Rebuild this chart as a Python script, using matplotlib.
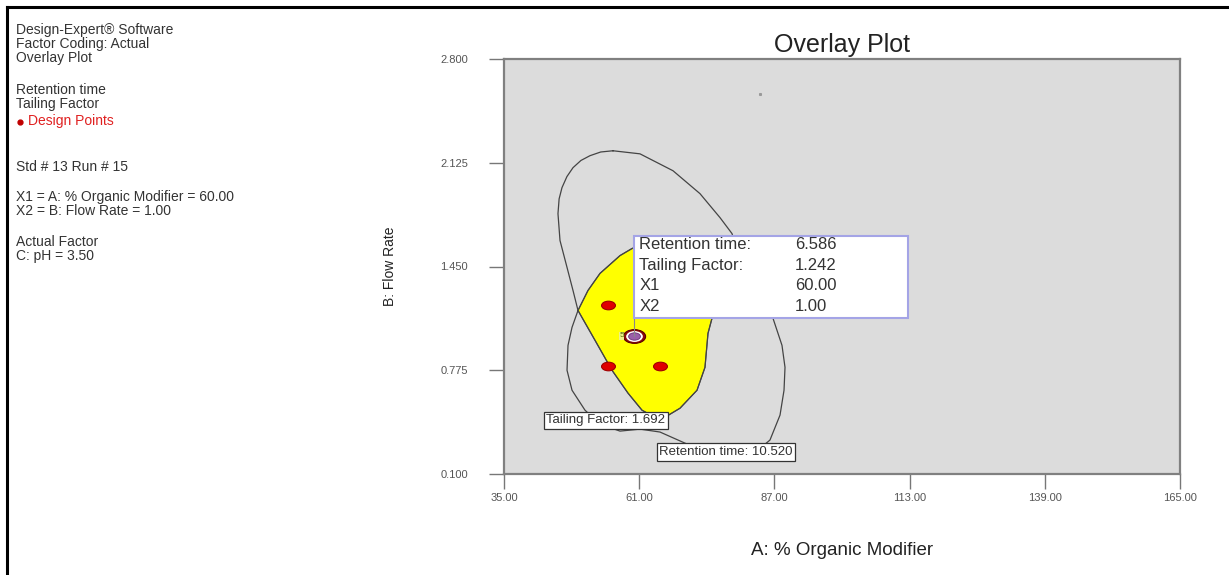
# -*- coding: utf-8 -*-
"""Overlay plot of the retention time / tailing factor design space."""

import matplotlib

matplotlib.use("Agg")
import matplotlib.pyplot as plt
from matplotlib.lines import Line2D
from matplotlib.markers import MarkerStyle
from matplotlib.patches import Polygon, Rectangle
from matplotlib.transforms import Affine2D

plt.rcParams["font.family"] = ["Liberation Sans", "DejaVu Sans"]

# axis ranges and ticks
x_ticks = [35.0, 61.0, 87.0, 113.0, 139.0, 165.0]
y_ticks = [0.100, 0.775, 1.450, 2.125, 2.800]

# design points (A: % organic modifier, B: flow rate)
design_x = [55.0, 55.0, 65.0, 65.0]
design_y = [1.2, 0.8, 0.8, 1.2]
center_x = [60.0]
center_y = [1.0]
center_reps = "5"

# Tailing Factor = 1.692 contour
tailing_x = [55.96, 61.15, 67.5, 72.69, 76.54, 78.85, 79.81, 79.42, 76.92, 75.0,
             74.23, 73.65, 72.12, 68.85, 65.0, 61.54, 58.85, 55.77, 52.5, 49.23,
             48.27, 47.12, 45.77, 45.38, 45.6, 46.15, 47.1, 48.27, 49.8, 51.54,
             53.6, 55.96]
tailing_y = [2.203, 2.183, 2.073, 1.924, 1.768, 1.664, 1.554, 1.424, 1.262, 1.113,
             1.015, 0.794, 0.645, 0.528, 0.450, 0.515, 0.626, 0.775, 0.970, 1.164,
             1.294, 1.444, 1.619, 1.794, 1.890, 1.963, 2.035, 2.093, 2.140, 2.171,
             2.195, 2.203]

# Retention time = 10.520 contour
retention_x = [49.23, 51.15, 53.46, 57.31, 59.62, 65.0, 71.73, 78.46, 83.85, 86.73,
               88.46, 89.04, 88.85, 88.08, 86.15, 82.69, 78.85, 73.65, 68.46, 65.0,
               61.15, 57.31, 53.46, 50.58, 48.08, 47.12, 47.31, 48.08, 49.23]
retention_y = [1.164, 1.294, 1.405, 1.521, 1.567, 1.632, 1.619, 1.521, 1.346, 1.113,
               0.937, 0.794, 0.645, 0.483, 0.321, 0.223, 0.184, 0.243, 0.321, 0.373,
               0.392, 0.379, 0.425, 0.515, 0.645, 0.775, 0.937, 1.054, 1.164]

# region meeting both criteria
region_x = [49.23, 51.15, 53.46, 57.31, 59.62, 65.0, 71.73, 76.0, 75.0, 74.23,
            73.65, 72.12, 68.85, 65.0, 61.54, 58.85, 55.77, 52.5]
region_y = [1.164, 1.294, 1.405, 1.521, 1.567, 1.632, 1.619, 1.35, 1.113, 1.015,
            0.794, 0.645, 0.528, 0.450, 0.515, 0.626, 0.775, 0.970]

# flag readout at the selected point
flag_names = ["Retention time:", "Tailing Factor:", "X1", "X2"]
flag_values = ["6.586", "1.242", "60.00", "1.00"]

info_lines = [
    ("Design-Expert\u00ae Software", 30),
    ("Factor Coding: Actual", 44),
    ("Overlay Plot", 58),
    ("Retention time", 90),
    ("Tailing Factor", 104),
    ("Std # 13 Run # 15", 167),
    ("X1 = A: % Organic Modifier = 60.00", 197),
    ("X2 = B: Flow Rate = 1.00", 211),
    ("Actual Factor", 242),
    ("C: pH = 3.50", 256),
]

W, H = 1229, 575
fig = plt.figure(figsize=(W / 100, H / 100), dpi=100)
fig.patch.set_facecolor("white")

ax = fig.add_axes([504 / W, 1 - 474 / H, (1180 - 504) / W, (474 - 59) / H])
ax.set_facecolor("#dcdcdc")
ax.set_xlim(x_ticks[0], x_ticks[-1])
ax.set_ylim(y_ticks[0], y_ticks[-1])
ax.set_xticks(x_ticks, [f"{v:.2f}" for v in x_ticks])
ax.set_yticks(y_ticks, [f"{v:.3f}" for v in y_ticks])
ax.tick_params(direction="out", length=11, width=1.0, color="#777777",
               labelsize=8, labelcolor="#555555")
ax.tick_params(axis="x", pad=3)
ax.tick_params(axis="y", pad=15)
for sp in ax.spines.values():
    sp.set_color("#808080")
    sp.set_linewidth(1.6)

ax.set_title("Overlay Plot", fontsize=18, color="#222222", pad=5)
ax.set_xlabel("A: % Organic Modifier", fontsize=13.5, color="#222222", labelpad=28)
ax.set_ylabel("B: Flow Rate", fontsize=10, color="#222222", labelpad=31)

# sweet spot and criteria contours
ax.add_patch(Polygon(list(zip(region_x, region_y)), closed=True,
                     facecolor="#ffff00", edgecolor="#555555", lw=0.8,
                     joinstyle="round", zorder=2))
for cx, cy in [(tailing_x, tailing_y), (retention_x, retention_y)]:
    ax.plot(cx, cy, color="#444444", lw=0.9, solid_joinstyle="round", zorder=3)

# small stray mark in the upper region
ax.plot([84.2], [2.573], "s", color="#999999", ms=1.2, zorder=3)

# design points
oval = MarkerStyle("o", transform=Affine2D().scale(1.0, 0.62))
ax.plot(design_x, design_y, linestyle="none", marker=oval, ms=10,
        mfc="#e00000", mec="#a00000", mew=0.8, zorder=4)
ax.plot(center_x, center_y, linestyle="none", marker=oval, ms=16,
        mfc="#8b0a0a", mec="#5a0000", mew=0.8, zorder=4)
ax.plot(center_x, center_y, linestyle="none", marker=oval, ms=11,
        mfc="white", mec="white", zorder=5)
ax.plot(center_x, center_y, linestyle="none", marker=oval, ms=8.5,
        mfc="#9a5fa8", mec="#6b2f78", mew=0.6, zorder=6)
ax.text(center_x[0] - 2.4, center_y[0], center_reps, fontsize=6, color="#556b00",
        ha="center", va="center", zorder=6,
        bbox=dict(boxstyle="square,pad=0.05", fc="#eef28a", ec="none"))

# contour labels
label_box = dict(boxstyle="square,pad=0.2", fc="white", ec="#333333", lw=0.9)
ax.text(54.6, 0.450, "Tailing Factor: 1.692", fontsize=9.5, color="#333333",
        ha="center", va="center", bbox=label_box, zorder=7)
ax.text(77.7, 0.243, "Retention time: 10.520", fontsize=9.5, color="#333333",
        ha="center", va="center", bbox=label_box, zorder=7)

# flag readout box with leader to the selected point
ax.plot([center_x[0], center_x[0]], [center_y[0], 1.113], color="#888888",
        lw=0.8, zorder=7)
ax.add_patch(Rectangle((60.0, 1.113), 112.7 - 60.0, 1.651 - 1.113,
                       fc="white", ec="#a4a4e6", lw=1.5, zorder=8))
row_y = [1.593, 1.457, 1.327, 1.190]
for name, val, yy in zip(flag_names, flag_values, row_y):
    ax.text(61.0, yy, name, fontsize=12, color="#333333", va="center", zorder=9)
    ax.text(91.0, yy, val, fontsize=12, color="#333333", va="center", zorder=9)

# header text block on the left
for text, py in info_lines:
    fig.text(16 / W, 1 - py / H, text, fontsize=10, color="#333333", va="center")
fig.text(28 / W, 1 - 121 / H, "Design Points", fontsize=10, color="#e02020",
         va="center")
fig.add_artist(Line2D([20 / W], [1 - 122 / H], marker="o", ms=3.5,
                      color="#c00000", transform=fig.transFigure))

# frame lines at the top and left edges
fig.add_artist(Line2D([7 / W, 1], [1 - 7 / H, 1 - 7 / H], color="black", lw=2.2,
                      transform=fig.transFigure))
fig.add_artist(Line2D([7 / W, 7 / W], [0, 1 - 7 / H], color="black", lw=2.2,
                      transform=fig.transFigure))

fig.savefig("out.png", dpi=100)
